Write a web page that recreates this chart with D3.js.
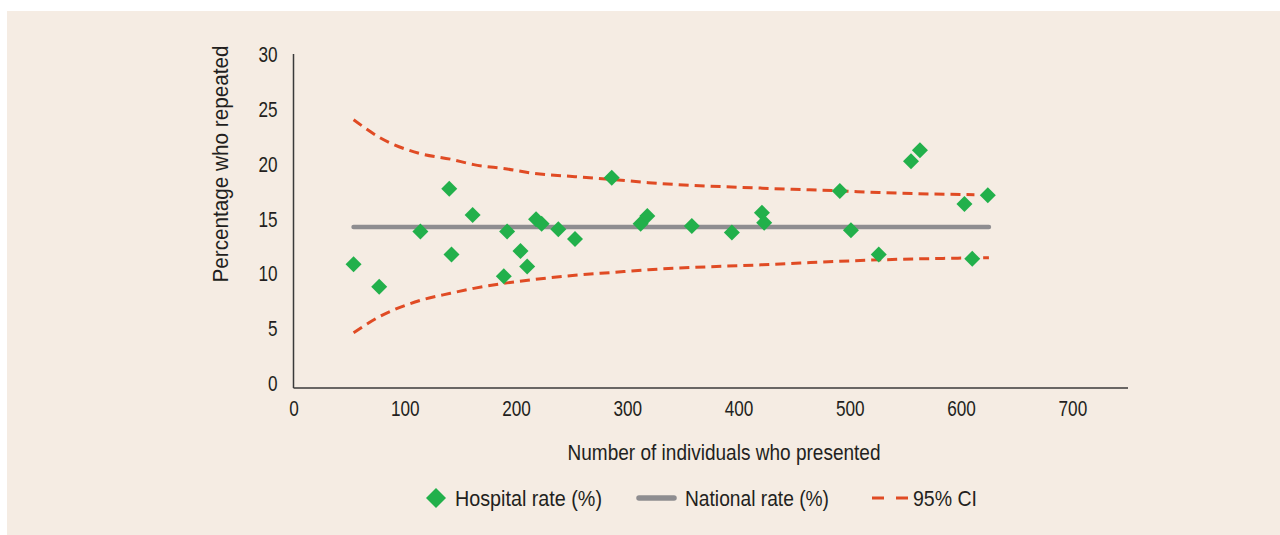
<!DOCTYPE html>
<html>
<head>
<meta charset="utf-8">
<script src="https://cdn.jsdelivr.net/npm/d3@7"></script>
<style>
  html, body { margin: 0; padding: 0; background: #ffffff; }
  svg { display: block; }
  text { font-family: "Liberation Sans", Arial, sans-serif; fill: #231f20; }
</style>
</head>
<body>
<svg id="chart" width="1280" height="535"></svg>
<script>
// ---- Data ----
const hospitalN    = [54, 77, 114, 140, 142, 161, 189, 192, 204, 210, 218, 223, 238, 253, 286, 312, 318, 358, 394, 421, 423, 491, 501, 526, 555, 563, 603, 610, 624];
const hospitalRate = [10.8, 8.75, 13.8, 17.7, 11.7, 15.3, 9.7, 13.8, 12.0, 10.6, 14.9, 14.5, 14.0, 13.1, 18.7, 14.5, 15.2, 14.3, 13.7, 15.5, 14.6, 17.5, 13.9, 11.7, 20.2, 21.2, 16.3, 11.3, 17.1];

const nationalN    = [54, 625];
const nationalRate = [14.2, 14.2];

const upperN  = [54, 77, 114, 141, 162, 192, 216, 253, 286, 319, 421, 491, 526, 612];
const upperCI = [24.0, 22.4, 20.9, 20.4, 19.9, 19.5, 19.1, 18.8, 18.55, 18.25, 17.75, 17.5, 17.35, 17.15];
const lowerN  = [54, 77, 114, 141, 162, 192, 216, 253, 286, 319, 421, 526, 625];
const lowerCI = [4.55, 6.0, 7.5, 8.15, 8.6, 9.1, 9.4, 9.8, 10.05, 10.3, 10.75, 11.2, 11.4];

const xTicks = [0, 100, 200, 300, 400, 500, 600, 700];
const yTicks = [0, 5, 10, 15, 20, 25, 30];

const xTitle = "Number of individuals who presented";
const yTitle = "Percentage who repeated";
const legendLabels = ["Hospital rate (%)", "National rate (%)", "95% CI"];

// ---- Styles ----
const C = {
  bg: "#f5ece3",
  green: "#22b04b",
  grey: "#8e8d90",
  red: "#e04b24",
  axis: "#3a3a3a"
};
const FS = "22px";
const SQUEEZE = 0.78;

function condense(sel, factor, target) {
  sel.each(function () {
    const w = this.getComputedTextLength();
    const t = target != null ? target : w * factor;
    d3.select(this).attr("textLength", t).attr("lengthAdjust", "spacingAndGlyphs");
  });
}

const svg = d3.select("#chart");
svg.append("rect").attr("x", 7).attr("y", 11).attr("width", 1273).attr("height", 524).attr("fill", C.bg);

const x = d3.scaleLinear().domain([0, 750]).range([293.5, 1128]);
const y = d3.scaleLinear().domain([-0.5, 30]).range([388, 54]);

// axes
const yAxis = d3.axisLeft(y).tickValues(yTicks).tickSize(0).tickPadding(16).tickFormat(d3.format("d"));
const gy = svg.append("g").attr("transform", `translate(${x(0)},0)`).call(yAxis);
gy.select(".domain").remove();
gy.selectAll("text").style("font-size", FS).attr("fill", "#231f20").attr("dy", "0.36em").call(condense, SQUEEZE);

const xAxis = d3.axisBottom(x).tickValues(xTicks).tickSize(0).tickPadding(12).tickFormat(d3.format("d"));
const gx = svg.append("g").attr("transform", `translate(0,${y.range()[0]})`).call(xAxis);
gx.select(".domain").remove();
gx.selectAll("text").style("font-size", FS).attr("fill", "#231f20").call(condense, SQUEEZE);

svg.append("line").attr("x1", x(0)).attr("x2", x(0)).attr("y1", y(30)).attr("y2", y.range()[0])
  .attr("stroke", C.axis).attr("stroke-width", 1.5);
svg.append("line").attr("x1", x(0)).attr("x2", x(750)).attr("y1", y.range()[0]).attr("y2", y.range()[0])
  .attr("stroke", C.axis).attr("stroke-width", 1.5);

// titles
svg.append("text").attr("x", 724).attr("y", 460).attr("text-anchor", "middle")
  .style("font-size", FS).text(xTitle).call(condense, 1, 313);
svg.append("text").attr("transform", "translate(228,164) rotate(-90)").attr("text-anchor", "middle")
  .style("font-size", FS).text(yTitle).call(condense, 1, 237);

// CI lines
const line = d3.line().x(d => x(d[0])).y(d => y(d[1])).curve(d3.curveMonotoneX);
[[upperN, upperCI], [lowerN, lowerCI]].forEach(([ns, vs]) => {
  svg.append("path").datum(ns.map((n, i) => [n, vs[i]]))
    .attr("d", line).attr("fill", "none").attr("stroke", C.red)
    .attr("stroke-width", 3).attr("stroke-dasharray", "10,6");
});

// national line
svg.append("path").datum(nationalN.map((n, i) => [n, nationalRate[i]]))
  .attr("d", d3.line().x(d => x(d[0])).y(d => y(d[1])))
  .attr("fill", "none").attr("stroke", C.grey).attr("stroke-width", 4.5).attr("stroke-linecap", "round");

// hospital points
const diamond = d3.symbol().type(d3.symbolSquare).size(128);
svg.append("g").selectAll("path").data(hospitalN.map((n, i) => [n, hospitalRate[i]])).join("path")
  .attr("d", diamond)
  .attr("transform", d => `translate(${x(d[0])},${y(d[1])}) rotate(45)`)
  .attr("fill", C.green);

// legend
const ly = 498;
const lg = svg.append("g");
lg.append("path").attr("d", d3.symbol().type(d3.symbolSquare).size(200))
  .attr("transform", `translate(436,${ly}) rotate(45)`).attr("fill", C.green);
lg.append("text").attr("x", 455).attr("y", ly).attr("dy", "0.36em").style("font-size", FS)
  .text(legendLabels[0]).call(condense, 1, 147);
lg.append("line").attr("x1", 639).attr("x2", 674).attr("y1", ly).attr("y2", ly)
  .attr("stroke", C.grey).attr("stroke-width", 5.5).attr("stroke-linecap", "round");
lg.append("text").attr("x", 685).attr("y", ly).attr("dy", "0.36em").style("font-size", FS)
  .text(legendLabels[1]).call(condense, 1, 144);
lg.append("line").attr("x1", 872).attr("x2", 909).attr("y1", ly).attr("y2", ly)
  .attr("stroke", C.red).attr("stroke-width", 3).attr("stroke-dasharray", "12,12");
lg.append("text").attr("x", 913).attr("y", ly).attr("dy", "0.36em").style("font-size", FS)
  .text(legendLabels[2]).call(condense, 1, 64);
</script>
</body>
</html>
